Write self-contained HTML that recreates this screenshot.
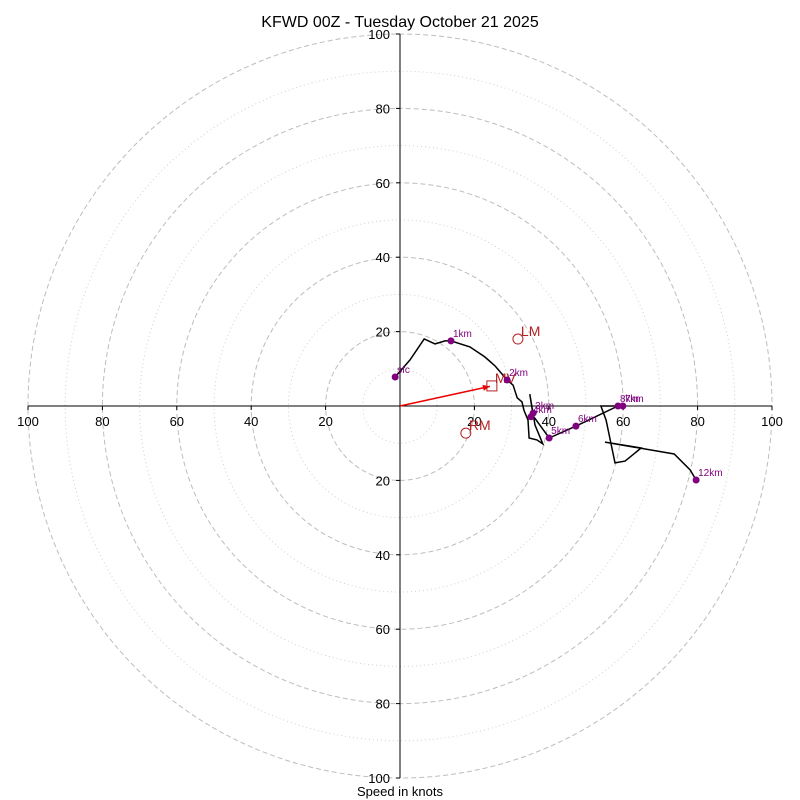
<!DOCTYPE html>
<html><head><meta charset="utf-8"><style>
html,body{margin:0;padding:0;background:#fff}
svg{display:block;font-family:"Liberation Sans","DejaVu Sans",sans-serif}
</style></head><body>
<svg id="chart" width="800" height="800">
<text x="400" y="27" text-anchor="middle" font-size="16">KFWD 00Z - Tuesday October 21 2025</text>
<text x="400" y="796" text-anchor="middle" font-size="13">Speed in knots</text>
<g id="grid"></g><g id="axes"></g><g id="marks"></g>
</svg>
<script>
const ringValues=[10,20,30,40,50,60,70,80,90,100];
const tickValues=[20,40,60,80,100];
const hodoU=[-1.3,2.7,6.5,9.4,12.1,13.7,18.8,22.8,25.5,28.8,30.4,31.5,32.8,33.3,34.4,34.7,36.8,38.4,36.3,34.9,35.8,40.1,47.3,58.6,59.9,54.0,55.4,57.8,60.5,64.8,55.1,73.7,78.0,79.6];
const hodoV=[7.8,12.4,18.0,16.7,17.5,17.5,15.9,13.2,10.8,7.0,5.6,2.2,1.1,-1.1,-3.8,-8.6,-9.1,-10.2,-5.1,3.2,-2.7,-8.6,-5.4,0,0,0,-3.8,-15.3,-14.8,-11.3,-9.7,-12.9,-17.2,-19.9];
const markerLabels=["sfc","1km","2km","3km","4km","5km","6km","7km","8km","12km"];
const markerU=[-1.3,13.7,28.8,35.8,35.2,40.1,47.3,59.9,58.6,79.6];
const markerV=[7.8,17.5,7.0,-1.9,-2.9,-8.6,-5.4,0,0,-19.9];
const motionLabels=["MV","LM","RM"];
const motionU=[24.7,31.7,17.7];
const motionV=[5.4,18.0,-7.3];

const NS="http://www.w3.org/2000/svg";
const cx=400,cy=406,k=3.72;
const sx=u=>cx+u*k, sy=v=>cy-v*k;
function mk(tag,attrs,parent,txt){const e=document.createElementNS(NS,tag);for(const a in attrs)e.setAttribute(a,attrs[a]);if(txt!==undefined)e.textContent=txt;parent.appendChild(e);return e;}
const grid=document.getElementById('grid'),axes=document.getElementById('axes'),marks=document.getElementById('marks');
ringValues.forEach(r=>{
  const major=r%20===0;
  const c=mk('circle',{cx:cx,cy:cy,r:r*k,fill:'none',stroke:major?'#bdbdbd':'#d0d0d0','stroke-width':major?1:1,'stroke-dasharray':major?'5,3':'1,3'},grid);
  
  
});
let l=mk('line',{x1:sx(-100),y1:cy,x2:sx(100),y2:cy,stroke:'#000','stroke-width':1},axes);


l=mk('line',{x1:cx,y1:sy(100),x2:cx,y2:sy(-100),stroke:'#000','stroke-width':1},axes);


tickValues.forEach(t=>{
  [-1,1].forEach(s=>{
    const x=sx(s*t);
    mk('line',{x1:x,y1:cy,x2:x,y2:cy+4,stroke:'#000'},axes);
    const tx=mk('text',{x:x,y:cy+20,'text-anchor':'middle','font-size':13},axes,String(t));
    
    
    const y=sy(s*t);
    mk('line',{x1:cx-4,y1:y,x2:cx,y2:y,stroke:'#000'},axes);
    const ty=mk('text',{x:cx-10,y:y+5,'text-anchor':'end','font-size':13},axes,String(t));
    
    
  });
});
const pts=hodoU.map((u,i)=>sx(u).toFixed(1)+','+sy(hodoV[i]).toFixed(1)).join(' ');
const pl=mk('polyline',{points:pts,fill:'none',stroke:'#000','stroke-width':1.5},marks);


// storm motion arrow
const mvx=sx(motionU[0]),mvy=sy(motionV[0]);
const ang=Math.atan2(mvy-cy,mvx-cx);
const ar=mk('line',{x1:cx,y1:cy,x2:mvx-Math.cos(ang)*2,y2:mvy-Math.sin(ang)*2,stroke:'#e00','stroke-width':1.5},marks);


const hx=mvx-Math.cos(ang)*2,hy=mvy-Math.sin(ang)*2;
const pa=ang+Math.PI/2;
mk('polygon',{points:`${hx},${hy} ${hx-7*Math.cos(ang)+3*Math.cos(pa)},${hy-7*Math.sin(ang)+3*Math.sin(pa)} ${hx-7*Math.cos(ang)-3*Math.cos(pa)},${hy-7*Math.sin(ang)-3*Math.sin(pa)}`,fill:'#e00'},marks);
motionLabels.forEach((lab,i)=>{
  const x=sx(motionU[i]),y=sy(motionV[i]);
  let m;
  if(i===0)m=mk('rect',{x:x-5,y:y-5,width:10,height:10,fill:'none',stroke:'#b22222','stroke-width':1},marks);
  else m=mk('circle',{cx:x,cy:y,r:5,fill:'none',stroke:'#b22222','stroke-width':1},marks);
  
  
  const t=mk('text',{x:x+3,y:y-3,'font-size':14,fill:'#b22222'},marks,lab);
  
  
});
markerLabels.forEach((lab,i)=>{
  const x=sx(markerU[i]),y=sy(markerV[i]);
  const c=mk('circle',{cx:x,cy:y,r:3.5,fill:'#800080'},marks);
  
  
  const t=mk('text',{x:x+2,y:y-4,'font-size':10,fill:'#800080'},marks,lab);
  
  
});
</script>
</body></html>
